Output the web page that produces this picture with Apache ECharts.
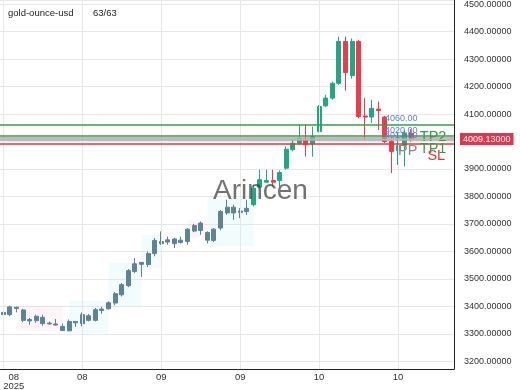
<!DOCTYPE html>
<html>
<head>
<meta charset="utf-8">
<script src="https://cdn.jsdelivr.net/npm/echarts@6/dist/echarts.min.js"></script>
<style>html,body{margin:0;padding:0;background:#fff}#c{width:520px;height:390px}</style>
</head>
<body>
<div id="c"></div>
<script>
// ---- data ----
const open  = [3370,3370,3392,3387,3347,3348,3360,3336,3336,3327,3311,3345,3337,3366,3349,3385,3391,3412,3442,3475,3527,3560,3552,3592,3628,3634,3645,3632,3636,3674,3703,3669,3640,3685,3740,3761,3742,3745,3770,3834,3852,3858,3858,3903,3970,3994,4009,3991,4036,4130,4158,4212,4364,4240,4364,4093,4089,4118,4089,4000,3966,3985,4030];
const close = [3378,3398,3397,3349,3352,3364,3337,3339,3332,3312,3345,3340,3370,3349,3388,3390,3413,3446,3479,3530,3555,3553,3592,3640,3636,3642,3628,3641,3681,3694,3676,3641,3681,3745,3761,3740,3747,3757,3830,3861,3858,3852,3887,3972,3994,4011,3988,4018,4127,4158,4212,4364,4251,4364,4091,4089,4121,4113,4000,3964,3985,4030,4009];
const low   = [3358,3364,3378,3342,3333,3340,3329,3334,3330,3310,3309,3325,3327,3345,3345,3373,3388,3404,3436,3470,3521,3507,3543,3582,3624,3624,3612,3629,3624,3670,3660,3629,3634,3677,3733,3715,3721,3733,3764,3830,3849,3836,3836,3897,3964,3988,3945,3945,4033,4125,4152,4206,4185,4229,4084,4006,4067,4042,3994,3885,3915,3909,4000];
const high  = [3382,3403,3399,3391,3358,3370,3370,3345,3354,3337,3352,3346,3378,3372,3394,3398,3418,3452,3485,3536,3576,3561,3600,3649,3673,3654,3649,3654,3685,3700,3709,3673,3685,3751,3788,3770,3758,3788,3843,3897,3897,3897,3895,3982,4006,4061,4061,4054,4133,4170,4218,4382,4382,4375,4370,4158,4152,4145,4093,4012,4030,4042,4045];
const tickLabels = ['08\n2025', '08', '09', '09', '10', '10'];
const tickStep = 12;
const slotCount = 69;
const lastPrice = 4009.13;
const levelNames  = ['entry', 'TP2', 'TP1', 'PP', 'SL'];
const levelValues = [4060, 4020, 4013, 4007, 3993];
const levelTags   = ['4060.00', '4020.00', '4013.00'];
const title = 'gold-ounce-usd';
const counter = '63/63';

// ---- build ----
const categories = Array.from({length: slotCount}, (_, i) => String(i));
const MUTED_UP = '#5d8495', MUTED_DOWN = '#8c6a4c';
const UP = '#22a684', DOWN = '#ef3a4c';
const candleData = open.map((o, i) => {
  const item = {value: [o, close[i], low[i], high[i]]};
  if (i < 38) item.itemStyle = {color: MUTED_UP, color0: MUTED_DOWN, borderColor: MUTED_UP, borderColor0: MUTED_DOWN};
  return item;
});

const GREEN = '#3a9a48', RED = '#e8333f', GREY = '#a8a8a8', BLUE = '#5b7fd8';
const levelColors = {entry: GREEN, TP2: GREEN, TP1: GREY, PP: GREY, SL: RED};
const lvl = n => levelValues[levelNames.indexOf(n)];
const FONT = 'Liberation Sans, Arial, sans-serif';

const levelSeries = levelNames.map(n => ({
  type: 'line', data: [], z: 2, silent: true,
  markLine: {
    silent: true, symbol: 'none', label: {show: false},
    lineStyle: {color: levelColors[n], width: 1.5, type: 'solid', opacity: 1},
    data: [{yAxis: lvl(n)}]
  }
}));

const chart = echarts.init(document.getElementById('c'), null, {renderer: 'canvas'});
chart.setOption({
  animation: false,
  backgroundColor: '#fff',
  textStyle: {fontFamily: FONT},
  title: [
    {text: title, left: 8, top: 8, padding: 0, textStyle: {fontSize: 9.5, fontWeight: 'normal', color: '#222', fontFamily: FONT}},
    {text: counter, left: 93, top: 8, padding: 0, textStyle: {fontSize: 9.5, fontWeight: 'normal', color: '#222', fontFamily: FONT}}
  ],
  graphic: [{
    type: 'text', left: 213, top: 177, z: 100,
    style: {text: 'Arincen', fontSize: 28, fill: 'rgba(60,60,60,0.72)', fontFamily: FONT}
  }],
  grid: {left: 0, right: 66, top: 0, bottom: 21, containLabel: false, outerBoundsMode: 'none'},
  xAxis: {
    type: 'category', data: categories, boundaryGap: true,
    axisLine: {lineStyle: {color: '#222', width: 1}},
    axisTick: {show: false},
    splitLine: {show: false},
    axisLabel: {
      interval: (i) => i % tickStep === 0 && i / tickStep < tickLabels.length,
      fontSize: 9.5, color: '#333', margin: 4, lineHeight: 9, hideOverlap: false,
      formatter: (v, i) => {
        const t = tickLabels[i / tickStep];
        if (i === 0) return t.split('\n').map(s => '{first|' + s + '}').join('\n');
        return t;
      },
      rich: {first: {fontSize: 9.5, color: '#333', padding: [0, 0, 0, 21], lineHeight: 9}}
    }
  },
  yAxis: {
    type: 'value', position: 'right', scale: true,
    min: 3172, max: 4515, splitNumber: 13, minInterval: 100, maxInterval: 100,
    axisLine: {show: true, lineStyle: {color: '#222', width: 1}},
    axisTick: {show: false},
    splitLine: {lineStyle: {color: '#e8e8e8', width: 1}},
    axisLabel: {
      fontSize: 9, color: '#333', margin: 10,
      showMinLabel: false, showMaxLabel: false,
      formatter: v => v.toFixed(5)
    },
    axisPointer: {
      show: true, status: 'show', value: lastPrice, snap: false, triggerTooltip: false, triggerEmphasis: false,
      lineStyle: {color: '#b8b8b8', width: 1, type: 'solid'},
      label: {
        show: true, formatter: p => Number(p.value).toFixed(5), margin: 6,
        color: '#fff', backgroundColor: '#e5334b', padding: [2, 3, 1, 3], fontSize: 9, fontFamily: FONT,
        borderRadius: 0, shadowBlur: 0
      }
    }
  },
  series: [
    {
      type: 'line', data: [], z: 1, silent: true,
      markArea: {
        silent: true,
        data: [
          [{xAxis: 2, yAxis: 3312, itemStyle: {color: 'rgba(248,190,215,0.15)'}}, {xAxis: 9, yAxis: 3400}],
          [{xAxis: 10, yAxis: 3300, itemStyle: {color: 'rgba(178,235,242,0.16)'}}, {xAxis: 16, yAxis: 3420}],
          [{xAxis: 16, yAxis: 3400, itemStyle: {color: 'rgba(178,235,242,0.16)'}}, {xAxis: 21, yAxis: 3560}],
          [{xAxis: 21, yAxis: 3540, itemStyle: {color: 'rgba(178,235,242,0.16)'}}, {xAxis: 24, yAxis: 3660}],
          [{xAxis: 28, yAxis: 3650, itemStyle: {color: 'rgba(248,190,215,0.15)'}}, {xAxis: 31, yAxis: 3715}],
          [{xAxis: 31, yAxis: 3620, itemStyle: {color: 'rgba(178,235,242,0.16)'}}, {xAxis: 38, yAxis: 3790}]
        ]
      },
      markLine: {
        silent: true, symbol: 'none', label: {show: false},
        lineStyle: {color: '#e8e8e8', width: 1, type: 'solid'},
        data: tickLabels.map((_, k) => ({xAxis: k * tickStep}))
      }
    },
    ...levelSeries,
    {
      type: 'candlestick', z: 3, data: candleData, barWidth: 4.5,
      itemStyle: {color: UP, color0: DOWN, borderColor: UP, borderColor0: DOWN, borderWidth: 1}
    },
    {
      type: 'line', data: [], z: 4, silent: true,
      markPoint: {
        symbol: 'circle', symbolSize: 0, silent: true,
        data: [
          {coord: [58, lvl('entry')], label: {formatter: levelTags[0], position: 'right', distance: 0, offset: [0, -6], color: BLUE, fontSize: 9}},
          {coord: [58, lvl('TP2')], label: {formatter: levelTags[1], position: 'right', distance: 0, offset: [0, -5], color: BLUE, fontSize: 9}},
          {coord: [58, lvl('TP1')], label: {formatter: levelTags[2], position: 'right', distance: 0, offset: [0, -2], color: BLUE, fontSize: 9}},
          {coord: [63, lvl('TP2')], label: {formatter: 'TP2', position: 'right', distance: 2, offset: [0, 1], color: GREEN, fontSize: 14.5}},
          {coord: [63, lvl('TP1')], label: {formatter: 'TP1', position: 'right', distance: 2, offset: [0, 11], color: GREEN, fontSize: 14.5}},
          {coord: [60, lvl('PP')], label: {formatter: 'PP', position: 'right', distance: 0, offset: [0, 11], color: '#8a8a8a', fontSize: 14.5}},
          {coord: [64, lvl('SL')], label: {formatter: 'SL', position: 'right', distance: 3, offset: [0, 13], color: RED, fontSize: 14.5}}
        ]
      }
    }
  ]
});
</script>
</body>
</html>
